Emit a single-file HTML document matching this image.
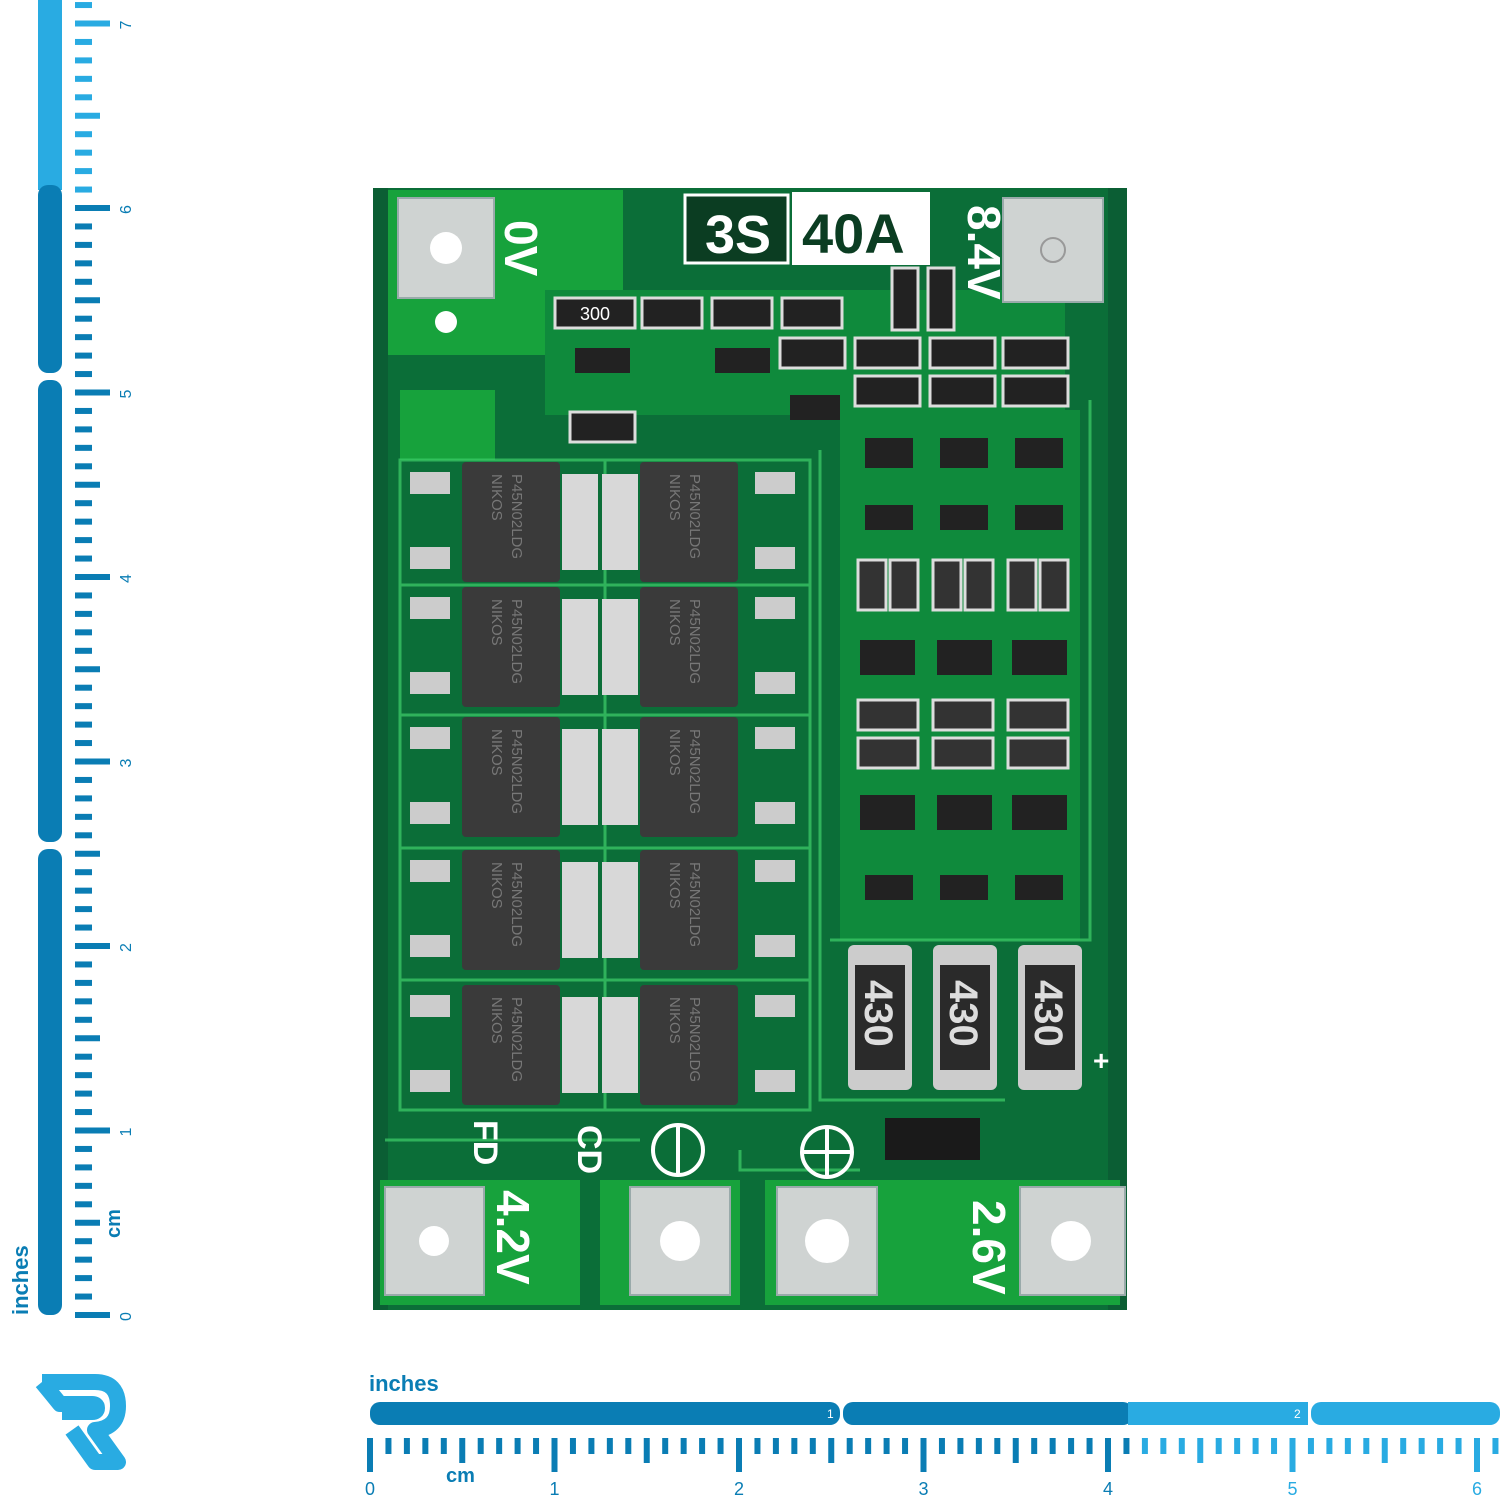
<!DOCTYPE html>
<html><head><meta charset="utf-8"><style>
html,body{margin:0;padding:0;background:#fff;}
svg{display:block}
text{font-family:"Liberation Sans",sans-serif;}
</style></head><body>
<svg width="1500" height="1500" viewBox="0 0 1500 1500" xmlns="http://www.w3.org/2000/svg">
<rect x="38" y="0" width="24" height="190" fill="#29abe2"/>
<rect x="38" y="185" width="24" height="188" rx="10" fill="#0a7db4"/>
<rect x="38" y="380" width="24" height="462" rx="10" fill="#0a7db4"/>
<rect x="38" y="849" width="24" height="466" rx="10" fill="#0a7db4"/>
<g id="lt"></g>
<text x="0" y="0" transform="translate(28,1315) rotate(-90)" font-size="22" font-weight="bold" fill="#0a7db4">inches</text>
<text x="0" y="0" transform="translate(120,1238) rotate(-90)" font-size="20" font-weight="bold" fill="#0a7db4">cm</text>
<rect x="370" y="1402" width="470" height="23" rx="10" fill="#0a7db4"/>
<rect x="843" y="1402" width="290" height="23" rx="10" fill="#0a7db4"/>
<rect x="1128" y="1402" width="180" height="23" fill="#29abe2"/>
<rect x="1311" y="1402" width="189" height="23" rx="10" fill="#29abe2"/>
<text x="827" y="1418" font-size="12" fill="#fff">1</text>
<text x="1294" y="1418" font-size="12" fill="#fff">2</text>
<text x="369" y="1391" font-size="22" font-weight="bold" fill="#0a7db4">inches</text>
<text x="446" y="1482" font-size="20" font-weight="bold" fill="#0a7db4">cm</text>
<g id="bt"></g>
<path d="M42 1382 H95 Q118 1382 118 1406 Q118 1428 95 1430 L118 1462 H95 L72 1430 M42 1382 L60 1404 H92 Q97 1404 97 1408 Q97 1412 92 1412 H62" fill="none" stroke="#29abe2" stroke-width="16" stroke-linejoin="round"/>
<rect x="373" y="188" width="754" height="1122" fill="#0b5e34"/>
<rect x="388" y="188" width="720" height="1122" fill="#0b6e38"/>
<rect x="388" y="190" width="235" height="165" fill="#17a23c"/>
<rect x="400" y="390" width="95" height="70" fill="#17a23c"/>
<rect x="380" y="1180" width="200" height="125" fill="#17a23c"/>
<rect x="600" y="1180" width="140" height="125" fill="#17a23c"/>
<rect x="765" y="1180" width="355" height="125" fill="#17a23c"/>
<rect x="545" y="290" width="520" height="125" fill="#0f8a3c"/>
<rect x="840" y="410" width="240" height="530" fill="#0f8a3c"/>
<g fill="none" stroke="#3fcf6a" stroke-width="3" opacity=".7">
<rect x="400" y="460" width="410" height="650"/>
<line x1="605" y1="460" x2="605" y2="1110"/>
<line x1="400" y1="585" x2="810" y2="585"/><line x1="400" y1="715" x2="810" y2="715"/>
<line x1="400" y1="848" x2="810" y2="848"/><line x1="400" y1="980" x2="810" y2="980"/>
<path d="M820 450 V1100 H1005 M830 940 H1090 V400"/>
<path d="M385 1140 H640 M740 1150 V1170 H860"/>
</g>
<g fill="#cfd3d2" stroke="#9aa" stroke-width="2">
<rect x="398" y="198" width="96" height="100"/>
<rect x="1003" y="198" width="100" height="104"/>
<rect x="385" y="1187" width="99" height="108"/>
<rect x="630" y="1187" width="100" height="108"/>
<rect x="777" y="1187" width="100" height="108"/>
<rect x="1020" y="1187" width="105" height="108"/>
</g>
<g fill="#fff"><circle cx="446" cy="248" r="16"/><circle cx="434" cy="1241" r="15"/><circle cx="680" cy="1241" r="20"/><circle cx="827" cy="1241" r="22"/><circle cx="1071" cy="1241" r="20"/><circle cx="446" cy="322" r="11"/></g>
<circle cx="1053" cy="250" r="12" fill="none" stroke="#999" stroke-width="2"/>
<rect x="685" y="195" width="103" height="68" fill="#0b3d22" stroke="#fff" stroke-width="3"/>
<text x="705" y="253" font-size="54" font-weight="bold" fill="#fff">3S</text>
<rect x="792" y="192" width="138" height="73" fill="#fff"/>
<text x="802" y="253" font-size="56" font-weight="bold" fill="#0b3d22">40A</text>
<g font-weight="bold" fill="#fff" font-size="46">
<text transform="translate(505,220) rotate(90)">0V</text>
<text transform="translate(968,205) rotate(90)">8.4V</text>
<text transform="translate(497,1190) rotate(90)">4.2V</text>
<text transform="translate(973,1200) rotate(90)">2.6V</text>
<text font-size="34" transform="translate(474,1120) rotate(90)">FD</text>
<text font-size="34" transform="translate(578,1125) rotate(90)">CD</text>
</g>
<circle cx="678" cy="1150" r="25" fill="none" stroke="#fff" stroke-width="4"/><line x1="678" y1="1127" x2="678" y2="1173" stroke="#fff" stroke-width="4"/>
<circle cx="827" cy="1152" r="25" fill="none" stroke="#fff" stroke-width="4"/><path d="M803 1152H851M827 1128V1176" stroke="#fff" stroke-width="4"/>
<text x="1093" y="1070" font-size="28" font-weight="bold" fill="#fff">+</text>
<rect x="885" y="1118" width="95" height="42" fill="#1a1a1a"/>
<g id="mos"></g>
<g fill="#222" stroke="#ddd" stroke-width="3">
<rect x="555" y="298" width="80" height="30"/><rect x="642" y="298" width="60" height="30"/><rect x="712" y="298" width="60" height="30"/><rect x="782" y="298" width="60" height="30"/>
<rect x="780" y="338" width="65" height="30"/><rect x="855" y="338" width="65" height="30"/><rect x="930" y="338" width="65" height="30"/><rect x="1003" y="338" width="65" height="30"/>
<rect x="855" y="376" width="65" height="30"/><rect x="930" y="376" width="65" height="30"/><rect x="1003" y="376" width="65" height="30"/>
<rect x="570" y="412" width="65" height="30"/><rect x="892" y="268" width="26" height="62"/><rect x="928" y="268" width="26" height="62"/>
</g>
<g fill="#222"><rect x="575" y="348" width="55" height="25"/><rect x="715" y="348" width="55" height="25"/><rect x="790" y="395" width="50" height="25"/>
<rect x="865" y="438" width="48" height="30"/><rect x="940" y="438" width="48" height="30"/><rect x="1015" y="438" width="48" height="30"/>
<rect x="865" y="505" width="48" height="25"/><rect x="940" y="505" width="48" height="25"/><rect x="1015" y="505" width="48" height="25"/>
<rect x="860" y="640" width="55" height="35"/><rect x="937" y="640" width="55" height="35"/><rect x="1012" y="640" width="55" height="35"/>
<rect x="860" y="795" width="55" height="35"/><rect x="937" y="795" width="55" height="35"/><rect x="1012" y="795" width="55" height="35"/>
<rect x="865" y="875" width="48" height="25"/><rect x="940" y="875" width="48" height="25"/><rect x="1015" y="875" width="48" height="25"/>
</g>
<g fill="#333" stroke="#ddd" stroke-width="3">
<rect x="858" y="560" width="28" height="50"/><rect x="890" y="560" width="28" height="50"/><rect x="933" y="560" width="28" height="50"/><rect x="965" y="560" width="28" height="50"/><rect x="1008" y="560" width="28" height="50"/><rect x="1040" y="560" width="28" height="50"/>
<rect x="858" y="700" width="60" height="30"/><rect x="933" y="700" width="60" height="30"/><rect x="1008" y="700" width="60" height="30"/>
<rect x="858" y="738" width="60" height="30"/><rect x="933" y="738" width="60" height="30"/><rect x="1008" y="738" width="60" height="30"/>
</g>
<text x="580" y="320" font-size="18" fill="#fff">300</text>
<g><rect x="848" y="945" width="64" height="145" rx="6" fill="#ccc"/><rect x="855" y="965" width="50" height="105" fill="#2a2a2a"/>
<rect x="933" y="945" width="64" height="145" rx="6" fill="#ccc"/><rect x="940" y="965" width="50" height="105" fill="#2a2a2a"/>
<rect x="1018" y="945" width="64" height="145" rx="6" fill="#ccc"/><rect x="1025" y="965" width="50" height="105" fill="#2a2a2a"/></g>
<g font-size="40" font-weight="bold" fill="#ddd">
<text transform="translate(865,980) rotate(90)">430</text><text transform="translate(950,980) rotate(90)">430</text><text transform="translate(1035,980) rotate(90)">430</text></g>
</svg>
<script>
var ns="http://www.w3.org/2000/svg";
function el(p,t,a){var e=document.createElementNS(ns,t);for(var k in a)e.setAttribute(k,a[k]);p.appendChild(e);return e;}
var lt=document.getElementById('lt'),bt=document.getElementById('bt');
for(var i=0;i<=72;i++){var y=1315-i*18.45;if(y<-5)break;var L=i%10==0?35:(i%5==0?25:17);var c=y<190?"#29abe2":"#0a7db4";
el(lt,'rect',{x:75,y:y-3,width:L,height:6,fill:c});
if(i%10==0){var t=el(lt,'text',{transform:'translate(131,'+(y+6)+') rotate(-90)','font-size':16,fill:'#0a7db4'});t.textContent=i/10;}}
for(var i=0;i<=61;i++){var x=370+i*18.45;if(x>1500)break;var L=i%10==0?34:(i%5==0?25:16);var c=x>1128?"#29abe2":"#0a7db4";
el(bt,'rect',{x:x-3,y:1438,width:6,height:L,fill:c});
if(i%10==0){var t=el(bt,'text',{x:x-5,y:1495,'font-size':18,fill:c});t.textContent=i/10;}}
var m=document.getElementById('mos');
var rows=[462,587,717,850,985];
rows.forEach(function(y,r){
 [[462,'L'],[640,'R']].forEach(function(o){var x=o[0];
 el(m,'rect',{x:x,y:y,width:98,height:120,rx:4,fill:'#3a3a3a'});
 var tx=o[1]=='L'?x+100:x-38;
 el(m,'rect',{x:tx,y:y+12,width:36,height:96,fill:'#d8d8d8'});
 var px=o[1]=='L'?410:755;
 el(m,'rect',{x:px,y:y+10,width:40,height:22,fill:'#ccc'});
 el(m,'rect',{x:px,y:y+85,width:40,height:22,fill:'#ccc'});
 var t=el(m,'text',{transform:'translate('+(x+30)+','+(y+12)+') rotate(90)','font-size':15,fill:'#777'});t.textContent='NIKOS';
 t=el(m,'text',{transform:'translate('+(x+50)+','+(y+12)+') rotate(90)','font-size':15,fill:'#777'});t.textContent='P45N02LDG';
 });
});
</script>
</body></html>
